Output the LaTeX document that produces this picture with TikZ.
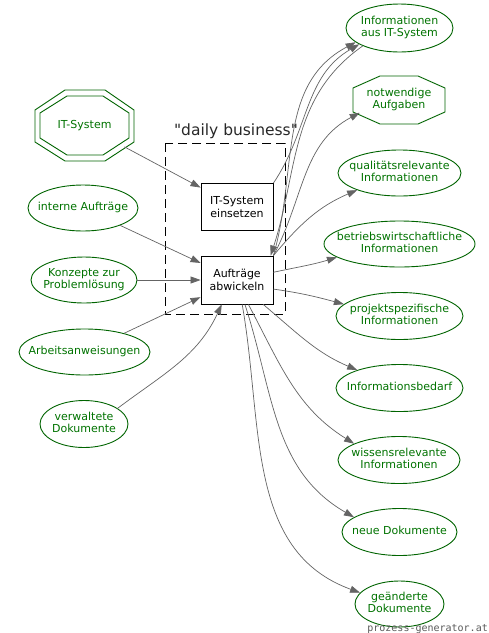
\documentclass[tikz,border=0pt]{standalone}
\usepackage{fontspec}
\setmainfont{DejaVu Sans}
\newfontfamily\dailyfont{DejaVu Sans}[Ligatures=TeXOff]
\newfontfamily\wmfont{DejaVu Sans Mono}
\usetikzlibrary{arrows.meta,shapes.geometric}
\definecolor{grn}{RGB}{0,100,0}
\definecolor{grntxt}{RGB}{0,115,0}
\definecolor{edgegray}{RGB}{100,100,100}
\newcommand{\ctext}[1]{\makebox[0pt]{\begin{tabular}{@{}c@{}}#1\end{tabular}}}
\begin{document}
\begin{tikzpicture}[x=1pt,y=1pt,
  every node/.style={font=\fontsize{11}{12.5}\selectfont, align=center, inner sep=0pt},
  ell/.style={ellipse, draw=grn, line width=0.9pt, text=grntxt},
  hidden/.style={ellipse, draw=none, text=grntxt},
  proc/.style={rectangle, draw=black, line width=0.9pt, minimum width=72pt, minimum height=47pt},
  edge/.style={draw=edgegray, line width=0.7pt, -{Triangle[length=10pt,width=7pt]}},
  grnline/.style={draw=grn, line width=0.9pt}
]
\useasboundingbox[fill=white] (0,0) rectangle (489,-633);

% dashed cluster
\draw[black, line width=0.9pt, dash pattern=on 9pt off 5pt] (165,-143) rectangle (285,-314);
\node[font=\dailyfont\fontsize{15.5}{18}\selectfont, text={rgb,255:red,40;green,40;blue,40}] (daily) at (236,-131) {"daily business"};

% IT-System octagon (double)
\node[hidden, minimum width=99pt, minimum height=71pt] (its) at (84.5,-125.5) {IT-System};
\draw[grnline] (65,-90) -- (105,-90) -- (134,-110) -- (134,-142) -- (105,-161) -- (65,-161) -- (35,-142) -- (35,-110) -- cycle;
\draw[grnline] (67,-96) -- (103,-96) -- (129,-113) -- (129,-138) -- (103,-155) -- (67,-155) -- (40,-138) -- (40,-113) -- cycle;

% process boxes
\node[proc] (ein) at (237,-207) {IT-System\\einsetzen};
\node[proc, minimum height=48pt] (auf) at (237,-280) {Aufträge\\abwickeln};

% left inputs
\node[ell, minimum width=110pt, minimum height=46pt] (ia) at (83,-208) {\ctext{interne Aufträge}};
\node[ell, minimum width=106pt, minimum height=46pt] (kz) at (84,-280) {\ctext{Konzepte zur\\Problemlösung}};
\node[ell, minimum width=131pt, minimum height=46pt] (aw) at (84.5,-352) {\ctext{Arbeitsanweisungen}};
\node[ell, minimum width=88pt, minimum height=47pt] (vd) at (84,-424) {\ctext{verwaltete\\Dokumente}};

% right outputs
\node[ell, minimum width=107pt, minimum height=48pt] (iit) at (399.5,-28) {\ctext{Informationen\\aus IT-System}};
\node[hidden, minimum width=92pt, minimum height=48pt] (nw) at (399,-100) {\ctext{notwendige\\Aufgaben}};
\draw[grnline] (380,-76) -- (418,-76) -- (445,-88) -- (445,-112) -- (418,-124) -- (380,-124) -- (353,-112) -- (353,-88) -- cycle;
\node[ell, minimum width=123pt, minimum height=46pt] (ql) at (399.5,-173) {\ctext{qualitätsrelevante\\Informationen}};
\node[ell, minimum width=151pt, minimum height=46pt] (bw) at (399.5,-244) {\ctext{betriebswirtschaftliche\\Informationen}};
\node[ell, minimum width=127pt, minimum height=47pt] (pj) at (399.5,-316) {\ctext{projektspezifische\\Informationen}};
\node[ell, minimum width=127pt, minimum height=47pt] (ib) at (399.5,-388) {\ctext{Informationsbedarf}};
\node[ell, minimum width=122pt, minimum height=47pt] (wr) at (399,-460) {\ctext{wissensrelevante\\Informationen}};
\node[ell, minimum width=115pt, minimum height=47pt] (nd) at (399.5,-532) {\ctext{neue Dokumente}};
\node[ell, minimum width=89pt, minimum height=46pt] (gd) at (399.5,-604) {\ctext{geänderte\\Dokumente}};

% watermark
\node[font=\wmfont\fontsize{10}{12}\selectfont, text={rgb,255:red,90;green,90;blue,90}, anchor=base east] (wm) at (488,-631) {prozess-generator.at};

% edges into processes
\draw[edge] (its) -- (ein);
\draw[edge] (ia) -- (auf);
\draw[edge] (kz) -- (auf);
\draw[edge] (aw) -- (auf);
\draw[edge] (vd.25) to[out=37,in=-115] (auf.-122);
\draw[edge] (iit.-154) to[out=-145,in=72] (auf.36);

% edges out of processes
\draw[edge] (ein.north east) to[out=56,in=-150] (iit.-158);
\draw[edge] (auf.north east) to[out=74,in=-152] (iit.-162);
\draw[edge] (auf.north east) to[out=62,in=-152] (nw.-162);
\draw[edge] (auf.north east) to[out=50,in=-157] (ql.-158);
\draw[edge] (auf.12) to[out=12,in=-163] (bw.-168);
\draw[edge] (auf.-14) to[out=-8,in=165] (pj.168);
\draw[edge] (auf.-43) to[out=-40,in=157] (ib.157);
\draw[edge] (auf.-65) to[out=-62,in=148] (wr.160);
\draw[edge] (auf.-72) to[out=-72,in=150] (nd.162);
\draw[edge] (auf.-78) to[out=-80,in=160] (gd.164);
\end{tikzpicture}
\end{document}
